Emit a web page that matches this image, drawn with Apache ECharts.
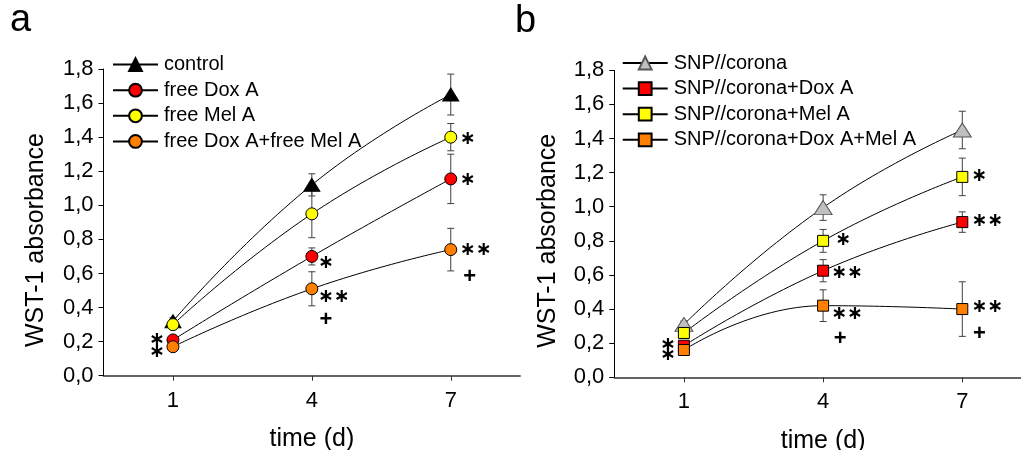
<!DOCTYPE html>
<html><head><meta charset="utf-8">
<script src="https://cdn.jsdelivr.net/npm/echarts@6/dist/echarts.min.js"></script>
<style>html,body{margin:0;padding:0;background:#fff}#c{width:1021px;height:450px}</style>
</head><body><div id="c"></div>
<script>
// ---------- data ----------
const days = [1, 4, 7];
const xTickValues = [1, 4, 7];
const yTickLabels = ['0,0','0,2','0,4','0,6','0,8','1,0','1,2','1,4','1,6','1,8'];
const panelLetters = ['a', 'b'];
const xTitle = 'time (d)';
const yTitle = 'WST-1 absorbance';

// panel a
const namesA = ['control', 'free Dox A', 'free Mel A', 'free Dox A+free Mel A'];
const controlA = [0.32, 1.12, 1.65];
const controlAErr = [0.02, 0.065, 0.12];
const freeDox = [0.21, 0.70, 1.155];
const freeDoxErr = [0.02, 0.05, 0.145];
const freeMel = [0.30, 0.95, 1.40];
const freeMelErr = [0.03, 0.14, 0.08];
const freeDoxMel = [0.17, 0.51, 0.74];
const freeDoxMelErr = [0.02, 0.10, 0.125];

// panel b
const namesB = ['SNP//corona', 'SNP//corona+Dox A', 'SNP//corona+Mel A', 'SNP//corona+Dox A+Mel A'];
const snp = [0.31, 0.995, 1.45];
const snpErr = [0.02, 0.075, 0.11];
const snpDox = [0.185, 0.625, 0.91];
const snpDoxErr = [0.02, 0.065, 0.06];
const snpMel = [0.26, 0.80, 1.175];
const snpMelErr = [0.02, 0.067, 0.11];
const snpDoxMel = [0.16, 0.42, 0.40];
const snpDoxMelErr = [0.02, 0.093, 0.16];

// significance marks: [series index within panel, day index, text]
const annotA = [[1,0,'∗'],[3,0,'∗'],[1,1,'∗'],[3,1,'∗∗'],[3,1,'+'],[2,2,'∗'],[1,2,'∗'],[3,2,'∗∗'],[3,2,'+']];
const annotB = [[1,0,'∗'],[3,0,'∗'],[2,1,'∗'],[1,1,'∗∗'],[3,1,'∗∗'],[3,1,'+'],[2,2,'∗'],[1,2,'∗∗'],[3,2,'∗∗'],[3,2,'+']];

// ---------- layout / style ----------
const annotOffA = [[-16,0],[-16,5],[14,7],[22,8],[14,31],[17,2],[17,1],[25,0],[19,27]];
const annotOffB = [[-16,-1],[-16,5],[20,-1],[24,2],[24,8],[17,33],[17,-1],[25,-1],[25,-2],[17,25]];
const FONT = '"Liberation Sans", Arial, sans-serif';

const valsA = [controlA, freeDox, freeMel, freeDoxMel];
const errsA = [controlAErr, freeDoxErr, freeMelErr, freeDoxMelErr];
const valsB = [snp, snpDox, snpMel, snpDoxMel];
const errsB = [snpErr, snpDoxErr, snpMelErr, snpDoxMelErr];

const stylesA = [
  {symbol:'triangle', size:[16,13], color:'#000000', border:'#000000'},
  {symbol:'circle', size:12, color:'#ff0000', border:'#000000'},
  {symbol:'circle', size:12, color:'#ffff00', border:'#000000'},
  {symbol:'circle', size:12, color:'#ff8000', border:'#000000'}
];
const stylesB = [
  {symbol:'triangle', size:[18,14], color:'#c0c0c0', border:'#555555'},
  {symbol:'rect', size:11, color:'#ff0000', border:'#000000'},
  {symbol:'rect', size:11, color:'#ffff00', border:'#000000'},
  {symbol:'rect', size:11, color:'#ff8000', border:'#000000'}
];

const chart = echarts.init(document.getElementById('c'), null, {renderer:'canvas'});

function xAxis(gi) {
  return {
    type:'value', gridIndex:gi, min:-0.5, max:8.5,
    axisLine:{show:true, onZero:false, lineStyle:{color:'#333', width:1.5}},
    axisTick:{show:true, customValues:xTickValues, length:5, lineStyle:{color:'#333'}},
    axisLabel:{customValues:xTickValues, margin:14, fontSize:22, color:'#000', fontFamily:FONT},
    splitLine:{show:false},
    name:xTitle, nameLocation:'middle', nameGap:51,
    nameTextStyle:{fontSize:25, color:'#000', fontFamily:FONT}
  };
}
function yAxis(gi) {
  return {
    type:'value', gridIndex:gi, min:0, max:1.8, interval:0.2,
    axisLine:{show:true, onZero:false, lineStyle:{color:'#000', width:1}},
    axisTick:{show:true, length:5, lineStyle:{color:'#000'}},
    axisLabel:{margin:10, fontSize:22, color:'#000', fontFamily:FONT,
      formatter:(v)=>yTickLabels[Math.round(v/0.2)]},
    splitLine:{show:false}
  };
}

function errSeries(gi, vals, errs) {
  const data = [];
  vals.forEach((arr, s) => arr.forEach((v, i) => data.push([days[i], v, errs[s][i]])));
  return {
    type:'custom', xAxisIndex:gi, yAxisIndex:gi, z:1, silent:true, clip:false,
    data:data,
    renderItem:(params, api) => {
      const x = api.value(0), y = api.value(1), e = api.value(2);
      const t = api.coord([x, y + e]), b = api.coord([x, y - e]);
      const w = 3.5, st = {stroke:'#404040', lineWidth:1};
      return {type:'group', children:[
        {type:'line', shape:{x1:t[0], y1:t[1], x2:b[0], y2:b[1]}, style:st},
        {type:'line', shape:{x1:t[0]-w, y1:t[1], x2:t[0]+w, y2:t[1]}, style:st},
        {type:'line', shape:{x1:b[0]-w, y1:b[1], x2:b[0]+w, y2:b[1]}, style:st}
      ]};
    }
  };
}

function lineSeries(gi, names, vals, styles) {
  return names.map((n, s) => ({
    type:'line', name:n, xAxisIndex:gi, yAxisIndex:gi, z:3,
    data:days.map((d, i) => [d, vals[s][i]]),
    smooth:0.5,
    symbol:styles[s].symbol, symbolSize:styles[s].size,
    showAllSymbol:true,
    itemStyle:{color:styles[s].color, borderColor:styles[s].border, borderWidth:1, opacity:1},
    lineStyle:{color:'#000', width:1},
    emphasis:{disabled:true}, silent:true
  }));
}

function annotSeries(gi, annots, offs, vals) {
  return {
    type:'custom', xAxisIndex:gi, yAxisIndex:gi, z:5, silent:true, clip:false,
    data:annots.map(a => [days[a[1]], vals[a[0]][a[1]]]),
    renderItem:(params, api) => {
      const p = api.coord([api.value(0), api.value(1)]);
      const a = annots[params.dataIndex], o = offs[params.dataIndex];
      const isPlus = a[2] === '+';
      return {type:'text', x:p[0] + o[0], y:p[1] + o[1], style:{
        text:a[2], fill:'#000', align:'center', verticalAlign:'middle',
        font: isPlus ? 'bold 22px "Liberation Sans", Arial, sans-serif'
                     : 'bold 19px "DejaVu Sans", sans-serif'
      }};
    }
  };
}

function legend(names, left, top) {
  return {
    data:names, orient:'vertical', left:left, top:top, padding:0,
    itemWidth:45, itemHeight:16, itemGap:5.6, selectedMode:false,
    textStyle:{fontSize:20, color:'#000', fontFamily:FONT, padding:[0,0,0,1]}
  };
}

const option = {
  animation:false,
  backgroundColor:'#fff',
  grid:[
    {left:103.5, top:69, width:416.7, height:306.7, outerBoundsMode:'none', containLabel:false},
    {left:614.3, top:70.3, width:417.6, height:307, outerBoundsMode:'none', containLabel:false}
  ],
  xAxis:[xAxis(0), xAxis(1)],
  yAxis:[yAxis(0), yAxis(1)],
  legend:[legend(namesA, 112, 54.6), legend(namesB, 621.7, 53)],
  graphic:[
    {type:'text', x:10, y:21, style:{text:panelLetters[0], font:'38px "Liberation Sans", Arial, sans-serif', fill:'#000', verticalAlign:'middle'}},
    {type:'text', x:515, y:22, style:{text:panelLetters[1], font:'38px "Liberation Sans", Arial, sans-serif', fill:'#000', verticalAlign:'middle'}},
    {type:'text', x:36.3, y:240, rotation:Math.PI/2, style:{text:yTitle, font:'25px "Liberation Sans", Arial, sans-serif', fill:'#000', align:'center', verticalAlign:'middle'}},
    {type:'text', x:548, y:240.8, rotation:Math.PI/2, style:{text:yTitle, font:'25px "Liberation Sans", Arial, sans-serif', fill:'#000', align:'center', verticalAlign:'middle'}}
  ],
  series:[
    errSeries(0, valsA, errsA),
    ...lineSeries(0, namesA, valsA, stylesA),
    annotSeries(0, annotA, annotOffA, valsA),
    errSeries(1, valsB, errsB),
    ...lineSeries(1, namesB, valsB, stylesB),
    annotSeries(1, annotB, annotOffB, valsB)
  ]
};
chart.setOption(option);
</script>
</body></html>
